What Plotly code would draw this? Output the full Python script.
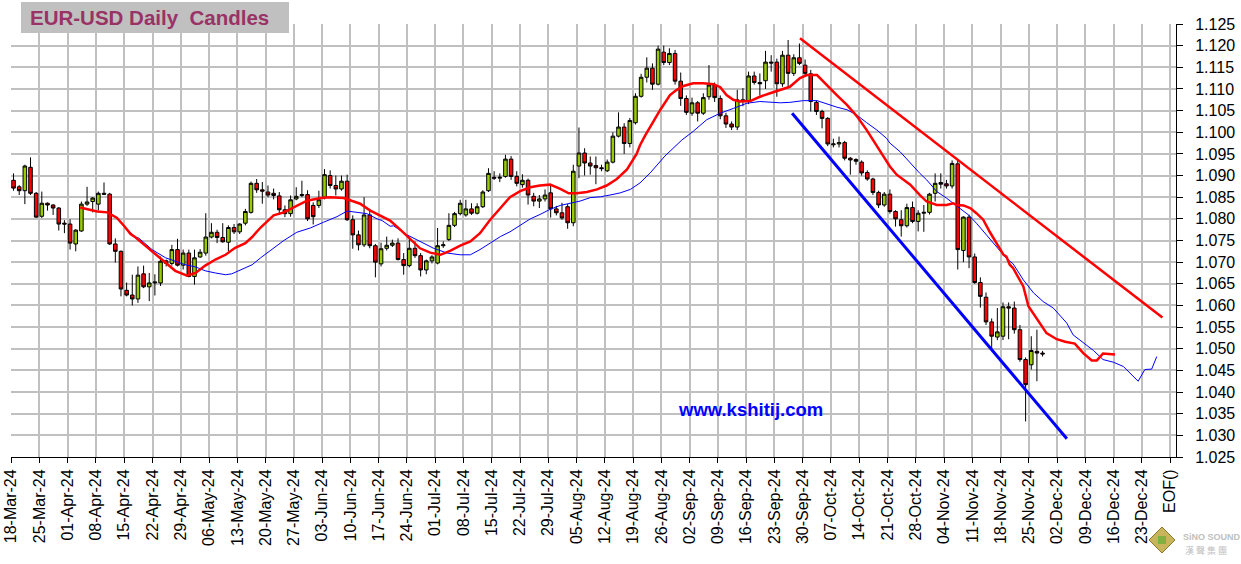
import plotly.graph_objects as go

# ---------------- data ----------------
opens = [1.0889,1.0874,1.0865,1.0919,1.0859,1.0806,1.0836,1.0832,1.0825,1.0790,
         1.0788,1.0742,1.0772,1.0834,1.0840,1.0834,1.0859,1.0857,1.0742,1.0725,
         1.0635,1.0624,1.0615,1.0673,1.0643,1.0652,1.0652,1.0703,1.0697,1.0729,
         1.0693,1.0721,1.0667,1.0712,1.0721,1.0758,1.0769,1.0757,1.0746,1.0780,
         1.0770,1.0790,1.0815,1.0882,1.0867,1.0862,1.0859,1.0853,1.0821,1.0812,
         1.0846,1.0854,1.0856,1.0831,1.0831,1.0850,1.0900,1.0877,1.0869,1.0887,
         1.0798,1.0763,1.0740,1.0809,1.0738,1.0696,1.0732,1.0739,1.0744,1.0706,
         1.0692,1.0732,1.0715,1.0682,1.0703,1.0698,1.0738,1.0752,1.0785,1.0812,
         1.0809,1.0823,1.0813,1.0828,1.0865,1.0896,1.0894,1.0898,1.0938,1.0898,
         1.0879,1.0889,1.0852,1.0841,1.0846,1.0860,1.0823,1.0814,1.0828,1.0791,
         1.0922,1.0952,1.0929,1.0923,1.0918,1.0911,1.0931,1.0991,1.1012,1.0974,
         1.1022,1.1083,1.1127,1.1148,1.1111,1.1185,1.1161,1.1182,1.1118,1.1078,
         1.1044,1.1068,1.1044,1.1082,1.1109,1.1078,1.1038,1.1019,1.1012,1.1075,
         1.1072,1.1130,1.1115,1.1119,1.1162,1.1162,1.1112,1.1178,1.1136,1.1172,
         1.1155,1.1135,1.1069,1.1048,1.1032,1.0971,1.0973,1.0976,1.0940,1.0937,
         1.0931,1.0907,1.0892,1.0861,1.0832,1.0857,1.0817,1.0798,1.0784,1.0826,
         1.0794,1.0813,1.0815,1.0859,1.0884,1.0881,1.0876,1.0927,1.0727,1.0804,
         1.0712,1.0653,1.0619,1.0562,1.0527,1.0529,1.0597,1.0594,1.0544,1.0475,
         1.0463,1.0494,1.0490]
highs = [1.0905,1.0878,1.0925,1.0942,1.0862,1.0863,1.0838,1.0834,1.0827,1.0797,
         1.0799,1.0776,1.0840,1.0874,1.0850,1.0863,1.0884,1.0860,1.0755,1.0727,
         1.0653,1.0671,1.0690,1.0692,1.0675,1.0672,1.0713,1.0706,1.0740,1.0754,
         1.0729,1.0729,1.0729,1.0730,1.0813,1.0790,1.0775,1.0790,1.0785,1.0788,
         1.0790,1.0823,1.0886,1.0892,1.0885,1.0877,1.0870,1.0862,1.0831,1.0854,
         1.0873,1.0888,1.0866,1.0838,1.0865,1.0915,1.0912,1.0900,1.0900,1.0902,
         1.0808,1.0773,1.0850,1.0819,1.0742,1.0745,1.0759,1.0752,1.0755,1.0721,
         1.0759,1.0748,1.0721,1.0706,1.0716,1.0779,1.0748,1.0813,1.0816,1.0844,
         1.0844,1.0836,1.0836,1.0866,1.0917,1.0910,1.0905,1.0948,1.0945,1.0910,
         1.0903,1.0893,1.0860,1.0855,1.0868,1.0876,1.0830,1.0837,1.0834,1.0925,
         1.1011,1.0963,1.0944,1.0944,1.0925,1.0937,1.1000,1.1046,1.1021,1.1033,
         1.1090,1.1135,1.1173,1.1159,1.1200,1.1200,1.1194,1.1190,1.1138,1.1085,
         1.1080,1.1072,1.1090,1.1155,1.1115,1.1085,1.1045,1.1025,1.1098,1.1102,
         1.1140,1.1140,1.1136,1.1188,1.1178,1.1170,1.1188,1.1213,1.1180,1.1205,
         1.1168,1.1144,1.1073,1.1052,1.1035,1.0985,1.0990,1.0980,1.0943,1.0940,
         1.0935,1.0912,1.0895,1.0865,1.0862,1.0868,1.0820,1.0820,1.0835,1.0840,
         1.0820,1.0832,1.0860,1.0905,1.0905,1.0890,1.0935,1.0937,1.0806,1.0810,
         1.0720,1.0665,1.0630,1.0570,1.0594,1.0607,1.0607,1.0609,1.0555,1.0480,
         1.0529,1.0544,1.0495]
lows = [1.0865,1.0855,1.0834,1.0855,1.0802,1.0802,1.0819,1.0809,1.0773,1.0767,
        1.0729,1.0725,1.0770,1.0830,1.0815,1.0819,1.0855,1.0740,1.0699,1.0621,
        1.0621,1.0600,1.0606,1.0640,1.0610,1.0623,1.0645,1.0690,1.0692,1.0690,
        1.0683,1.0665,1.0648,1.0710,1.0715,1.0755,1.0744,1.0745,1.0725,1.0765,
        1.0765,1.0785,1.0812,1.0860,1.0835,1.0850,1.0845,1.0809,1.0804,1.0805,
        1.0843,1.0850,1.0795,1.0787,1.0825,1.0845,1.0870,1.0854,1.0865,1.0795,
        1.0731,1.0727,1.0735,1.0732,1.0665,1.0690,1.0727,1.0735,1.0704,1.0671,
        1.0688,1.0710,1.0667,1.0672,1.0697,1.0695,1.0733,1.0749,1.0781,1.0808,
        1.0805,1.0809,1.0810,1.0825,1.0862,1.0890,1.0885,1.0895,1.0890,1.0875,
        1.0872,1.0833,1.0829,1.0825,1.0840,1.0803,1.0808,1.0798,1.0777,1.0783,
        1.0894,1.0900,1.0902,1.0880,1.0910,1.0908,1.0928,1.0988,1.0950,1.0965,
        1.1018,1.1080,1.1115,1.1098,1.1108,1.1155,1.1155,1.1110,1.1061,1.1040,
        1.1038,1.1025,1.1040,1.1075,1.1070,1.1030,1.1010,1.1005,1.1005,1.1060,
        1.1065,1.1110,1.1085,1.1100,1.1140,1.1082,1.1105,1.1102,1.1130,1.1155,
        1.1128,1.1048,1.1040,1.1009,1.0968,1.0965,1.0965,1.0935,1.0902,1.0925,
        1.0900,1.0888,1.0855,1.0825,1.0828,1.0812,1.0782,1.0759,1.0780,1.0790,
        1.0771,1.0770,1.0810,1.0840,1.0870,1.0870,1.0870,1.0683,1.0700,1.0686,
        1.0650,1.0595,1.0555,1.0498,1.0520,1.0520,1.0522,1.0535,1.0470,1.0332,
        1.0452,1.0425,1.0482]
closes = [1.0871,1.0865,1.0922,1.0859,1.0804,1.0836,1.0832,1.0825,1.0788,1.0788,
          1.0744,1.0774,1.0834,1.0839,1.0848,1.0859,1.0857,1.0742,1.0725,1.0638,
          1.0624,1.0615,1.0670,1.0643,1.0652,1.0654,1.0702,1.0697,1.0729,1.0693,
          1.0721,1.0667,1.0710,1.0723,1.0758,1.0769,1.0757,1.0747,1.0780,1.0770,
          1.0788,1.0817,1.0882,1.0867,1.0864,1.0855,1.0854,1.0821,1.0812,1.0844,
          1.0852,1.0856,1.0800,1.0805,1.0844,1.0902,1.0877,1.0869,1.0887,1.0798,
          1.0763,1.0740,1.0809,1.0738,1.0700,1.0731,1.0739,1.0744,1.0706,1.0692,
          1.0732,1.0715,1.0682,1.0703,1.0712,1.0738,1.0740,1.0785,1.0812,1.0836,
          1.0823,1.0813,1.0828,1.0862,1.0905,1.0894,1.0896,1.0938,1.0898,1.0882,
          1.0889,1.0855,1.0841,1.0846,1.0855,1.0823,1.0814,1.0802,1.0791,1.0910,
          1.0952,1.0929,1.0922,1.0918,1.0916,1.0931,1.0991,1.1012,1.0974,1.1027,
          1.1083,1.1127,1.1148,1.1111,1.1192,1.1161,1.1182,1.1118,1.1078,1.1046,
          1.1068,1.1044,1.1080,1.1109,1.1080,1.1038,1.1019,1.1012,1.1075,1.1072,
          1.1130,1.1115,1.1112,1.1162,1.1160,1.1112,1.1178,1.1136,1.1172,1.1159,
          1.1136,1.1071,1.1048,1.1032,1.0973,1.0973,1.0976,1.0940,1.0936,1.0933,
          1.0906,1.0892,1.0861,1.0832,1.0857,1.0817,1.0800,1.0784,1.0826,1.0794,
          1.0813,1.0815,1.0857,1.0882,1.0880,1.0876,1.0928,1.0729,1.0804,1.0712,
          1.0653,1.0621,1.0562,1.0529,1.0539,1.0597,1.0594,1.0544,1.0475,1.0417,
          1.0496,1.0490,1.0488]

week_labels = ["18-Mar-24","25-Mar-24","01-Apr-24","08-Apr-24","15-Apr-24","22-Apr-24",
               "29-Apr-24","06-May-24","13-May-24","20-May-24","27-May-24","03-Jun-24",
               "10-Jun-24","17-Jun-24","24-Jun-24","01-Jul-24","08-Jul-24","15-Jul-24",
               "22-Jul-24","29-Jul-24","05-Aug-24","12-Aug-24","19-Aug-24","26-Aug-24",
               "02-Sep-24","09-Sep-24","16-Sep-24","23-Sep-24","30-Sep-24","07-Oct-24",
               "14-Oct-24","21-Oct-24","28-Oct-24","04-Nov-24","11-Nov-24","18-Nov-24",
               "25-Nov-24","02-Dec-24","09-Dec-24","16-Dec-24","23-Dec-24","EOF()"]

# displaced moving averages (x = trading-day position, y = price)
red_ma_x = [11.8,13.0,14.8,16.6,17.4,18.3,19.6,20.7,21.6,23.3,25.1,26.9,28.6,30.7,32.2,33.9,
            35.7,37.5,39.2,41.0,42.2,43.7,46.0,47.8,50.1,51.9,54.3,56.0,58.4,59.6,61.3,63.1,
            64.9,66.6,68.4,70.2,71.9,73.7,75.5,77.2,79.0,80.8,82.5,84.3,86.1,87.8,89.6,91.4,
            93.1,94.9,96.7,98.2,99.6,101.4,103.2,104.9,106.7,108.5,110.2,110.8,111.7,112.6,
            114.4,116.1,117.3,118.5,120.2,122.0,123.8,125.0,126.1,127.3,128.5,130.3,132.0,
            133.8,135.6,137.3,139.1,140.3,142.1,143.8,145.6,147.4,149.1,150.9,152.7,154.4,
            155.0,156.2,156.8,158.6,160.3,161.5,163.3,165.0,166.2,166.8,168.0,169.2,170.3,
            171.5,172.7,173.9,175.1,175.6,176.2,176.8,178.6,179.5,180.9,182.7,184.5,186.0,
            187.7,189.2,190.7,191.6,192.7,194.8]
red_ma_y = [1.0826,1.0823,1.0817,1.0815,1.0809,1.0802,1.0783,1.0765,1.0757,1.0738,1.0717,1.0698,
            1.0680,1.0669,1.0675,1.0692,1.0706,1.0717,1.0733,1.0744,1.0758,1.0780,1.0808,1.0815,
            1.0831,1.0842,1.0848,1.0850,1.0848,1.0842,1.0835,1.0819,1.0807,1.0796,1.0775,1.0752,
            1.0732,1.0722,1.0717,1.0726,1.0738,1.0748,1.0767,1.0798,1.0825,1.0850,1.0864,1.0873,
            1.0877,1.0879,1.0869,1.0859,1.0859,1.0862,1.0868,1.0877,1.0892,1.0914,1.0950,1.0970,
            1.0992,1.1013,1.1052,1.1086,1.1098,1.1107,1.1113,1.1113,1.1111,1.1104,1.1086,1.1075,
            1.1071,1.1072,1.1082,1.1090,1.1097,1.1105,1.1125,1.1132,1.1132,1.1109,1.1086,1.1063,
            1.1038,1.1005,1.0967,1.0932,1.0921,1.0902,1.0896,1.0879,1.0855,1.0840,1.0832,1.0832,
            1.0836,1.0832,1.0831,1.0825,1.0813,1.0798,1.0769,1.0744,1.0717,1.0713,1.0694,1.0686,
            1.0644,1.0598,1.0571,1.0536,1.0522,1.0516,1.0512,1.0490,1.0473,1.0473,1.0489,1.0487]

blue_ma_x = [19.8,21.6,22.1,24.5,26.9,28.6,30.4,32.2,33.9,35.7,37.5,38.6,40.4,42.2,43.7,45.4,
             47.8,50.1,52.5,54.8,57.2,59.0,60.7,62.5,64.3,65.2,66.6,67.2,69.6,71.9,74.3,76.7,
             79.0,80.8,82.5,84.3,86.1,87.8,89.6,91.4,93.1,94.9,96.7,98.4,100.2,102.0,103.8,
             105.5,107.3,109.1,110.8,112.6,115.2,118.2,120.2,122.6,125.0,127.3,129.7,132.0,
             134.4,135.6,137.3,139.7,142.1,143.8,145.6,147.4,149.1,150.9,152.7,154.4,155.0,
             156.8,158.6,160.3,161.5,163.3,165.0,166.8,168.9,170.3,172.1,173.9,175.1,175.6,
             176.8,178.6,180.4,182.1,183.9,186.3,187.4,189.2,191.0,192.7,194.5,196.3,197.5,
             198.9,200.1,201.3,202.2]
blue_ma_y = [1.0780,1.0757,1.0756,1.0729,1.0710,1.0702,1.0694,1.0689,1.0680,1.0675,1.0671,1.0673,
             1.0684,1.0694,1.0710,1.0727,1.0750,1.0769,1.0779,1.0792,1.0805,1.0818,1.0815,1.0812,
             1.0800,1.0796,1.0783,1.0784,1.0763,1.0748,1.0732,1.0721,1.0717,1.0717,1.0729,1.0744,
             1.0759,1.0770,1.0785,1.0800,1.0810,1.0822,1.0831,1.0836,1.0841,1.0849,1.0851,1.0855,
             1.0860,1.0868,1.0883,1.0906,1.0945,1.0982,1.1002,1.1029,1.1044,1.1055,1.1067,1.1071,
             1.1069,1.1068,1.1069,1.1073,1.1073,1.1065,1.1058,1.1052,1.1040,1.1022,1.1005,1.0986,
             1.0975,1.0955,1.0929,1.0905,1.0890,1.0863,1.0848,1.0829,1.0809,1.0790,1.0763,1.0736,
             1.0717,1.0709,1.0696,1.0659,1.0629,1.0609,1.0594,1.0559,1.0532,1.0515,1.0496,1.0475,
             1.0469,1.0459,1.0444,1.0425,1.0452,1.0453,1.0482]

# hand-drawn trend lines (start, end)
upper_trend_x = [139.1, 203.2]
upper_trend_y = [1.1217, 1.0572]
lower_trend_x = [137.7, 186.3]
lower_trend_y = [1.1044, 1.0292]

# ---------------- figure ----------------
FONT = "Arial, 'Liberation Sans', sans-serif"
idx = list(range(len(opens)))

fig = go.Figure()
fig.add_trace(go.Candlestick(
    x=idx, open=opens, high=highs, low=lows, close=closes,
    increasing=dict(fillcolor="#99CC00", line=dict(color="black", width=1)),
    decreasing=dict(fillcolor="#FF0000", line=dict(color="black", width=1)),
    whiskerwidth=0, showlegend=False, hoverinfo="skip"))
fig.add_trace(go.Scatter(x=blue_ma_x, y=blue_ma_y, mode="lines",
                         line=dict(color="#0000FF", width=1), showlegend=False, hoverinfo="skip"))
fig.add_trace(go.Scatter(x=red_ma_x, y=red_ma_y, mode="lines",
                         line=dict(color="#FF0000", width=2.5), showlegend=False, hoverinfo="skip"))
fig.add_trace(go.Scatter(x=upper_trend_x, y=upper_trend_y, mode="lines",
                         line=dict(color="#FF0000", width=2.5), showlegend=False, hoverinfo="skip"))
fig.add_trace(go.Scatter(x=lower_trend_x, y=lower_trend_y, mode="lines",
                         line=dict(color="#0000FF", width=3), showlegend=False, hoverinfo="skip"))

tickvals = [5 * w - 0.42 for w in range(len(week_labels))]

W, H = 1241, 564
L, T = 11, 24
R, B = 1241 - 1176, 564 - 457
pw, ph = W - L - R, H - T - B

def px(xp):  # window pixel -> paper x
    return (xp - L) / pw

def py(yp):  # window pixel -> paper y
    return (H - B - yp) / ph

fig.update_layout(
    width=W, height=H, margin=dict(l=L, r=R, t=T, b=B, autoexpand=False),
    paper_bgcolor="white", plot_bgcolor="white",
    font=dict(family=FONT, size=16, color="black"),
    boxgap=0.1,
    xaxis=dict(range=[-0.45, 205.6], tickvals=tickvals, ticktext=week_labels,
               tickangle=-90, ticks="outside", ticklen=5, tickcolor="black",
               showline=True, linecolor="black", linewidth=1, automargin=False,
               ticklabeloverflow="allow",
               showgrid=True, gridcolor="#C0C0C0", gridwidth=1.5,
               zeroline=False, rangeslider=dict(visible=False),
               tickfont=dict(family=FONT, size=16, color="black")),
    yaxis=dict(range=[1.025, 1.125], side="right", dtick=0.005, tick0=1.025,
               tickformat=".3f", ticks="outside", ticklen=6, tickcolor="black",
               ticklabelstandoff=9,
               showline=True, linecolor="black", linewidth=1, automargin=False,
               showgrid=True, gridcolor="#C0C0C0", gridwidth=2, zeroline=False,
               tickfont=dict(family=FONT, size=16, color="black")),
)

# title box
fig.add_shape(type="rect", xref="paper", yref="paper",
              x0=px(21), x1=px(289), y0=py(33), y1=py(2),
              fillcolor="#C0C0C0", line=dict(width=0), layer="above")
fig.add_annotation(xref="paper", yref="paper", x=px(28), y=py(18),
                   xanchor="left", yanchor="middle", showarrow=False,
                   text="<b>EUR-USD Daily&nbsp; Candles</b>",
                   font=dict(family=FONT, size=20.5, color="#993366"))
# watermark
fig.add_annotation(xref="x", yref="y", x=130.3, y=1.0359, showarrow=False,
                   text="<b>www.kshitij.com</b>",
                   font=dict(family=FONT, size=18.5, color="#0000FF"))
# small logo
fig.add_shape(type="path", xref="paper", yref="paper",
              path="M {} {} L {} {} L {} {} L {} {} Z".format(
                  px(1149), py(540), px(1162), py(527), px(1175), py(540), px(1162), py(553)),
              fillcolor="#C8B45A", line=dict(color="#8A7A30", width=1), layer="above")
fig.add_shape(type="rect", xref="paper", yref="paper",
              x0=px(1158), x1=px(1166), y0=py(544), y1=py(536),
              fillcolor="#7FB040", line=dict(width=0), layer="above")
fig.add_annotation(xref="paper", yref="paper", x=px(1181), y=py(537),
                   xanchor="left", yanchor="middle", showarrow=False,
                   text="<b>SiNO SOUND</b>", font=dict(family=FONT, size=9, color="#C0C0C0"))
fig.add_annotation(xref="paper", yref="paper", x=px(1183), y=py(550),
                   xanchor="left", yanchor="middle", showarrow=False,
                   text="漢 聲 集 團", font=dict(family="Noto Sans CJK TC", size=9, color="#C0C0C0"))

# remove the default 8px page margin so the figure sits at the window corner
fig.write_html("out.html", config={"displayModeBar": False},
               post_script="document.body.style.margin='0';")
